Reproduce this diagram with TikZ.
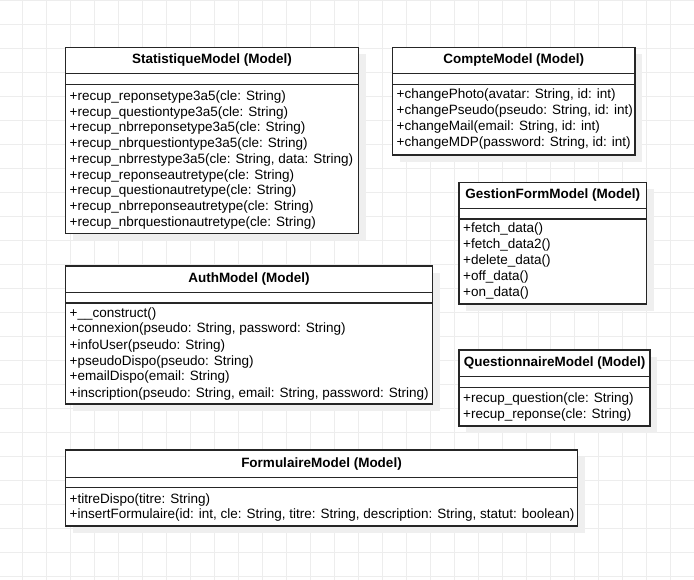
\documentclass[tikz,border=0pt]{standalone}
\usepackage{fontspec}
\setmainfont{Liberation Sans}
\definecolor{gridgray}{HTML}{EDEDED}
\definecolor{shadowgray}{HTML}{EFEFEF}
\definecolor{boxline}{HTML}{262626}

% #1 name, #2 left, #3 top, #4 right, #5 bottom, #6 header rule, #7 section rule, #8 title
\newcommand\umlclass[8]{%
  \pgfmathsetmacro\cw{#4-#2}%
  \pgfmathsetmacro\ch{#5-#3}%
  \fill[shade] (#2+7,#3+7) rectangle (#4+7,#5+7);
  \node[classbox,minimum width=\cw pt,minimum height=\ch pt] (#1) at (#2,#3) {};
  \draw[rule] (#1.west |- 0,#6) -- (#1.east |- 0,#6);
  \draw[rule] (#1.west |- 0,#7) -- (#1.east |- 0,#7);
  \node[title] (#1-title) at ({(#2+#4)/2},{(#3+#6)/2}) {#8};
}

\begin{document}
\begin{tikzpicture}[x=1pt,y=-1pt,
  gridline/.style={draw=gridgray,line width=1pt},
  shade/.style={fill=shadowgray},
  classbox/.style={draw=boxline,line width=1.1pt,fill=white,inner sep=0pt,outer sep=0pt,anchor=north west},
  rule/.style={draw=boxline,line width=1.1pt},
  title/.style={font=\fontsize{13.5}{15}\selectfont\bfseries,inner sep=0pt},
  member/.style={font=\fontsize{13.5}{15}\selectfont,inner sep=0pt,anchor=base west}]
\useasboundingbox (0,0) rectangle (694,580);

% background grid
\foreach \gx in {22.5,46.5,...,694} \draw[gridline] (\gx,0) -- (\gx,580);
\foreach \gy in {0.5,24.5,...,580} \draw[gridline] (0,\gy) -- (694,\gy);

% StatistiqueModel
\umlclass{stat}{65.5}{47.5}{358.5}{233.5}{73.5}{84.5}{StatistiqueModel (Model)}
\foreach \m [count=\i from 0] in {
  {+recup\_reponsetype3a5(cle: String)},
  {+recup\_questiontype3a5(cle: String)},
  {+recup\_nbrreponsetype3a5(cle: String)},
  {+recup\_nbrquestiontype3a5(cle: String)},
  {+recup\_nbrrestype3a5(cle: String, data: String)},
  {+recup\_reponseautretype(cle: String)},
  {+recup\_questionautretype(cle: String)},
  {+recup\_nbrreponseautretype(cle: String)},
  {+recup\_nbrquestionautretype(cle: String)}}
  \node[member] (stat-m\i) at (69.5,100.5+\i*15.75) {\m};

% CompteModel
\umlclass{compte}{392.5}{47.5}{635}{155}{73.5}{84.5}{CompteModel (Model)}
\foreach \m [count=\i from 0] in {
  {+changePhoto(avatar: String, id: int)},
  {+changePseudo(pseudo: String, id: int)},
  {+changeMail(email: String, id: int)},
  {+changeMDP(password: String, id: int)}}
  \node[member] (compte-m\i) at (396.5,99+\i*16) {\m};

% GestionFormModel
\umlclass{gestion}{459}{182.5}{646.5}{304}{208.5}{219}{GestionFormModel (Model)}
\foreach \m [count=\i from 0] in {
  {+fetch\_data()},
  {+fetch\_data2()},
  {+delete\_data()},
  {+off\_data()},
  {+on\_data()}}
  \node[member] (gestion-m\i) at (463,233+\i*16) {\m};

% AuthModel
\umlclass{auth}{65.5}{266}{432.5}{404}{292.5}{303}{AuthModel (Model)}
\foreach \m [count=\i from 0] in {
  {+\_\_construct()},
  {+connexion(pseudo: String, password: String)},
  {+infoUser(pseudo: String)},
  {+pseudoDispo(pseudo: String)},
  {+emailDispo(email: String)},
  {+inscription(pseudo: String, email: String, password: String)}}
  \node[member] (auth-m\i) at (69.5,317+\i*16) {\m};

% QuestionnaireModel
\umlclass{quest}{459}{350}{650}{426}{376.5}{387.5}{QuestionnaireModel (Model)}
\foreach \m [count=\i from 0] in {
  {+recup\_question(cle: String)},
  {+recup\_reponse(cle: String)}}
  \node[member] (quest-m\i) at (463,402+\i*16) {\m};

% FormulaireModel
\umlclass{form}{65.5}{450}{577.5}{526}{477.5}{487.5}{FormulaireModel (Model)}
\foreach \m [count=\i from 0] in {
  {+titreDispo(titre: String)},
  {+insertFormulaire(id: int, cle: String, titre: String, description: String, statut: boolean)}}
  \node[member] (form-m\i) at (69.5,503+\i*15.5) {\m};

\end{tikzpicture}
\end{document}
